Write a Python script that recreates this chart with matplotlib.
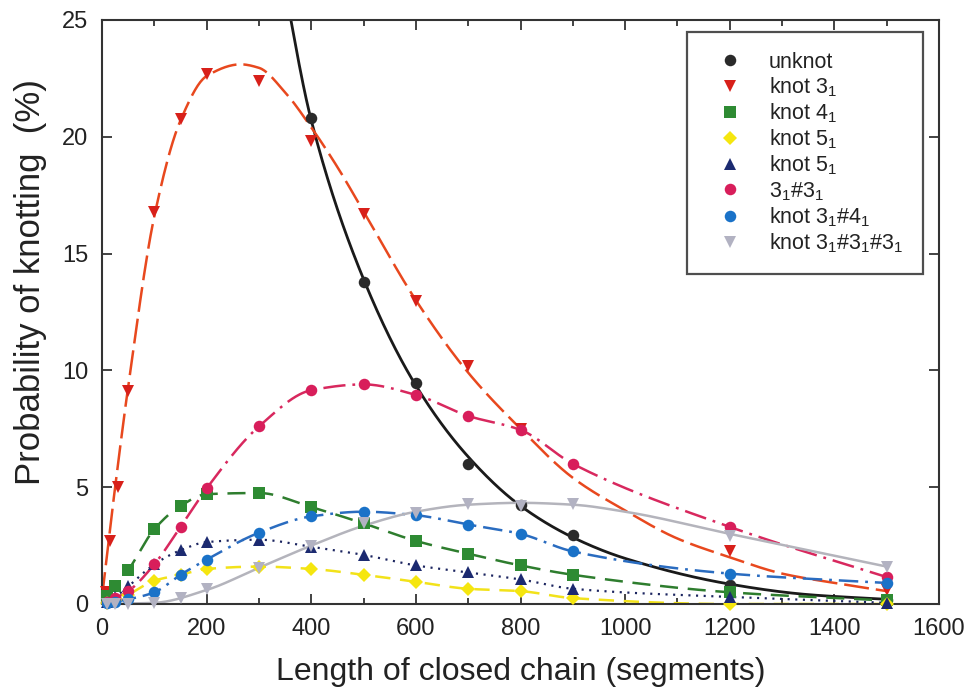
import numpy as np
import matplotlib
matplotlib.use("Agg")
import matplotlib.pyplot as plt
from matplotlib.lines import Line2D

plt.rcParams['font.family'] = ['Liberation Sans', 'DejaVu Sans']
plt.rcParams['mathtext.fontset'] = 'custom'
plt.rcParams['mathtext.rm'] = 'Liberation Sans'
plt.rcParams['lines.scale_dashes'] = False

# ---------------- data ----------------
unknot_x = [400, 500, 600, 700, 800, 900, 1200, 1500]
unknot_y = [20.8, 13.8, 9.45, 6.0, 4.25, 2.95, 0.8, 0.15]
unknot_fit_x = [340, 400, 500, 600, 700, 800, 900, 1000, 1200, 1350, 1500]
unknot_fit_y = [27.5, 20.7, 13.9, 9.35, 6.3, 4.2, 2.85, 1.95, 0.85, 0.4, 0.2]

k31_x = [8, 15, 30, 50, 100, 150, 200, 300, 400, 500, 600, 700, 800, 1200, 1500]
k31_y = [0.5, 2.7, 5.0, 9.1, 16.8, 20.75, 22.7, 22.4, 19.8, 16.7, 12.95, 10.2, 7.5, 2.25, 0.6]
k31_fit_x = [0, 10, 25, 50, 100, 150, 200, 265, 300, 350, 400, 450, 500, 600, 700,
             800, 900, 1000, 1100, 1200, 1300, 1400, 1500]
k31_fit_y = [0.3, 2.2, 5.0, 9.3, 16.6, 20.7, 22.6, 23.1, 22.95, 21.9, 20.4, 18.7, 16.8,
             13.0, 9.9, 7.5, 5.4, 4.0, 2.8, 2.0, 1.3, 0.9, 0.55]

N = [10, 25, 50, 100, 150, 200, 300, 400, 500, 600, 700, 800, 900, 1200, 1500]
k41_y = [0.35, 0.75, 1.45, 3.2, 4.2, 4.7, 4.75, 4.15, 3.45, 2.7, 2.15, 1.65, 1.25, 0.5, 0.15]
k51_y = [0.05, 0.15, 0.4, 1.0, 1.25, 1.5, 1.6, 1.5, 1.25, 0.95, 0.65, 0.55, 0.25, 0.0, 0.0]
k52_y = [0.1, 0.3, 0.75, 1.7, 2.3, 2.65, 2.75, 2.45, 2.1, 1.65, 1.35, 1.05, 0.65, 0.3, 0.05]
k3131_y = [0.1, 0.25, 0.55, 1.7, 3.3, 4.95, 7.6, 9.15, 9.4, 8.95, 8.05, 7.45, 6.0, 3.3, 1.15]
k3141_y = [0.05, 0.1, 0.2, 0.5, 1.25, 1.9, 3.05, 3.75, 3.95, 3.8, 3.4, 3.0, 2.25, 1.3, 0.9]
k313131_y = [0.0, 0.0, 0.0, 0.05, 0.25, 0.65, 1.55, 2.5, 3.45, 3.9, 4.3, 4.2, 4.3, 2.9, 1.6]
k313131_fit_x = [0, 100, 200, 300, 400, 500, 600, 700, 800, 900, 1000, 1200, 1500]
k313131_fit_y = [0.0, 0.05, 0.6, 1.55, 2.5, 3.35, 3.95, 4.25, 4.33, 4.25, 3.95, 3.0, 1.6]

labels = ['unknot', r'knot $\mathregular{3_1}$', r'knot $\mathregular{4_1}$',
          r'knot $\mathregular{5_1}$', r'knot $\mathregular{5_1}$',
          r'$\mathregular{3_1\#3_1}$', r'knot $\mathregular{3_1\#4_1}$',
          r'knot $\mathregular{3_1\#3_1\#3_1}$']

x_ticks = [0, 200, 400, 600, 800, 1000, 1200, 1400, 1600]
y_ticks = [0, 5, 10, 15, 20, 25]


def pchip(x, y, xn):
    x = np.asarray(x, float); y = np.asarray(y, float)
    h = np.diff(x); d = np.diff(y) / h
    m = np.zeros_like(y)
    for k in range(1, len(x) - 1):
        if d[k - 1] * d[k] > 0:
            w1 = 2 * h[k] + h[k - 1]; w2 = h[k] + 2 * h[k - 1]
            m[k] = (w1 + w2) / (w1 / d[k - 1] + w2 / d[k])
    m[0] = d[0]; m[-1] = d[-1]
    idx = np.clip(np.searchsorted(x, xn) - 1, 0, len(x) - 2)
    t = (xn - x[idx]) / h[idx]
    h00 = 2 * t**3 - 3 * t**2 + 1; h10 = t**3 - 2 * t**2 + t
    h01 = -2 * t**3 + 3 * t**2; h11 = t**3 - t**2
    return h00 * y[idx] + h10 * h[idx] * m[idx] + h01 * y[idx + 1] + h11 * h[idx] * m[idx + 1]


fig = plt.figure(figsize=(9.69, 6.98), dpi=100)
ax = fig.add_axes([0.1053, 0.1347, 0.8638, 0.8367])

series = [
    # fit_x, fit_y, pts_x, pts_y, line color, dashes, marker color, marker, lw
    (unknot_fit_x, unknot_fit_y, unknot_x, unknot_y, '#1a1a1a', None, '#2a2a2a', 'o', 2.0),
    (k31_fit_x, k31_fit_y, k31_x, k31_y, '#e8481e', (18, 5), '#d8201a', 'v', 1.8),
    (N, k41_y, N, k41_y, '#2e7d2e', (13, 7), '#2e8b33', 's', 1.8),
    (N, k51_y, N, k51_y, '#f2e21a', (11, 7), '#f5e60f', 'D', 1.8),
    (N, k52_y, N, k52_y, '#1c2560', (1.5, 4), '#1c2a70', '^', 1.6),
    (N, k3131_y, N, k3131_y, '#d8285e', (16, 5, 2, 5), '#d81e5b', 'o', 1.8),
    (N, k3141_y, N, k3141_y, '#2a6cc0', (14, 5, 2, 5), '#1a72c8', 'o', 1.8),
    (k313131_fit_x, k313131_fit_y, N, k313131_y, '#b4b4bc', None, '#b2b2c2', 'v', 1.8),
]

handles = []
for i, (fx, fy, px, py, lc, dash, mc, mk, lw) in enumerate(series):
    xs = np.linspace(fx[0], fx[-1], 600)
    ys = pchip(fx, fy, xs)
    ln, = ax.plot(xs, ys, color=lc, lw=lw, zorder=2 + i * 0.01)
    if dash is not None:
        ln.set_dashes(dash)
    ms = 6.8 if mk == 'D' else 8.3
    ax.plot(px, py, linestyle='none', marker=mk, color=mc, markersize=ms,
            markeredgewidth=0, zorder=3 + i * 0.01, clip_on=False)
    handles.append(Line2D([], [], linestyle='none', marker=mk, color=mc,
                          markersize=ms, markeredgewidth=0))

ax.set_xlim(0, 1600)
ax.set_ylim(0, 25)
ax.set_xticks(x_ticks)
ax.set_xticks(np.arange(0, 1601, 100), minor=True)
ax.set_yticks(y_ticks)
ax.tick_params(which='both', direction='in', top=True, right=True, colors='#222222',
               labelsize=17)
ax.tick_params(which='major', length=7, width=1.2, pad=10)
ax.tick_params(which='minor', length=4, width=1.2)
for s in ax.spines.values():
    s.set_linewidth(1.5)
    s.set_color('#333333')

ax.set_xlabel('Length of closed chain (segments)', fontsize=23, color='#222222', labelpad=12)
ax.set_ylabel('Probability of knotting  (%)', fontsize=25, color='#222222')
ax.yaxis.set_label_coords(-0.066, 0.551)

leg = ax.legend(handles, labels, loc='upper left', bbox_to_anchor=(0.699, 0.979),
                fontsize=15.5, frameon=True, fancybox=False, borderpad=0.9,
                labelspacing=0.12, handletextpad=0.7, handlelength=2.2,
                borderaxespad=0)
leg.get_frame().set_edgecolor('#222222')
leg.get_frame().set_linewidth(1.6)
for t in leg.get_texts():
    t.set_color('#222222')

fig.savefig('out.png', dpi=100)
